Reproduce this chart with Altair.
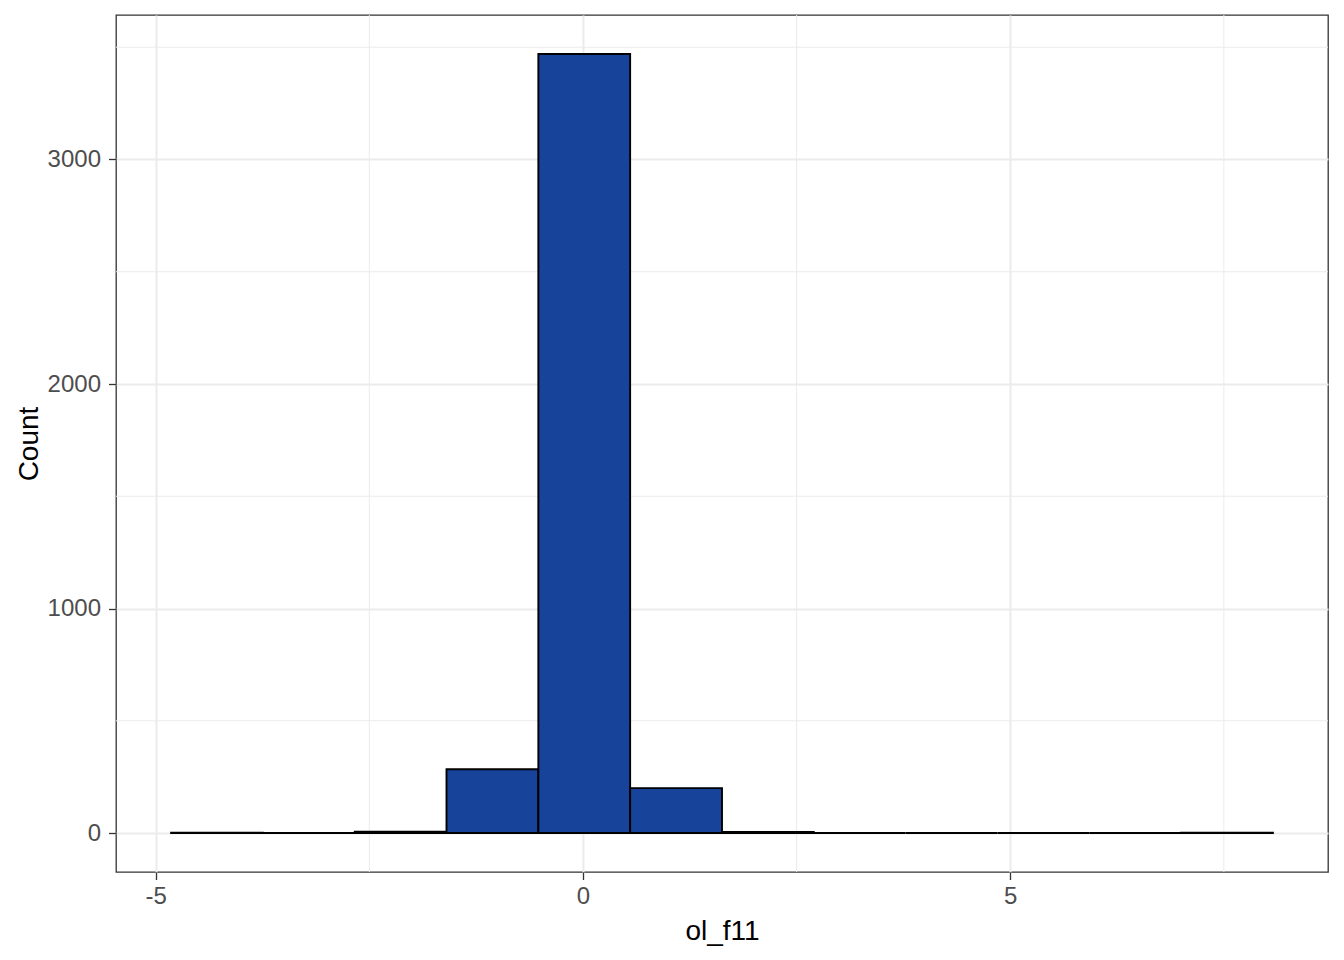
import altair as alt
import pandas as pd

# Histogram bins of ol_f11 (bin edges and counts)
bin_start = [-4.82, -3.746, -2.671, -1.597, -0.522, 0.552, 1.627, 2.701, 3.776, 4.850, 5.925, 6.999]
bin_end = [-3.746, -2.671, -1.597, -0.522, 0.552, 1.627, 2.701, 3.776, 4.850, 5.925, 6.999, 8.074]
counts = [1, 0, 6, 284, 3470, 200, 5, 0, 0, 0, 0, 1]

x_major = [-5, 0, 5]
x_minor = [-2.5, 2.5, 7.5]
y_major = [0, 1000, 2000, 3000]
y_minor = [500, 1500, 2500, 3500]

bars = pd.DataFrame({"start": bin_start, "end": bin_end, "count": counts, "zero": [0] * len(counts)})

xmin, xmax = min(bin_start), max(bin_end)
xpad = (xmax - xmin) * 0.05
ymax = max(counts)
x_dom = [xmin - xpad, xmax + xpad]
y_dom = [-0.05 * ymax, 1.05 * ymax]

FONT = "Liberation Sans"
GRID = "#EBEBEB"

xscale = alt.Scale(domain=x_dom, nice=False, zero=False)
yscale = alt.Scale(domain=y_dom, nice=False, zero=False)

common = dict(
    grid=True,
    gridColor=GRID,
    gridWidth=2,
    domain=False,
    tickColor="#333333",
    tickWidth=1.3,
    tickSize=7.5,
    labelFont=FONT,
    labelFontSize=24,
    labelColor="#4D4D4D",
    labelExpr="'' + datum.value",
    titleFont=FONT,
    titleFontSize=28,
    titleFontWeight="normal",
    titleColor="black",
    titleBaseline="alphabetic",
)
x_axis = alt.Axis(title="ol_f11", values=x_major, labelPadding=5, titleY=67, **common)
y_axis = alt.Axis(title="Count", values=y_major, labelPadding=8, titleX=-79, **common)

minor_x = alt.Chart(pd.DataFrame({"mx": x_minor})).mark_rule(color=GRID, strokeWidth=1).encode(
    x=alt.X("mx:Q", scale=xscale, axis=x_axis)
)
minor_y = alt.Chart(pd.DataFrame({"my": y_minor})).mark_rule(color=GRID, strokeWidth=1).encode(
    y=alt.Y("my:Q", scale=yscale, axis=y_axis)
)

hist = alt.Chart(bars).mark_rect(fill="#17449A", stroke="black", strokeWidth=1.9).encode(
    x=alt.X("start:Q", scale=xscale, axis=x_axis),
    x2="end:Q",
    y=alt.Y("count:Q", scale=yscale, axis=y_axis),
    y2="zero:Q",
)

chart = (
    alt.layer(minor_x, minor_y, hist)
    .properties(
        width=1212,
        height=857,
        autosize=alt.AutoSizeParams(type="none"),
        padding={"left": 108, "top": 7, "right": 8, "bottom": 80},
        background="white",
    )
    .configure_view(stroke="#333333", strokeWidth=1.3)
)

chart.save("out.html", embed_options={"renderer": "svg", "actions": False})
